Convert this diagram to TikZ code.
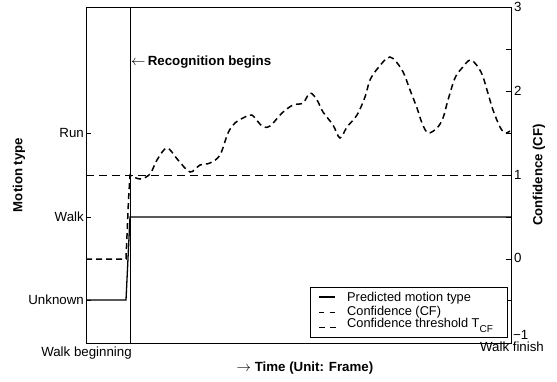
\documentclass[tikz,border=0pt]{standalone}
\usepackage{fontspec}
\setmainfont{Liberation Sans}
\begin{document}
\begin{tikzpicture}[x=1pt,y=-1pt,
  font=\fontsize{13.3}{15}\selectfont,
  txt/.style={inner sep=0pt},
  boldtxt/.style={inner sep=0pt,font=\fontsize{13.2}{15}\selectfont\bfseries},
  legtxt/.style={inner sep=0pt,anchor=base west,font=\fontsize{12.8}{13}\selectfont},
  axisbox/.style={line width=0.9pt},
  tickline/.style={line width=0.8pt},
  predline/.style={line width=1.3pt},
  cfline/.style={line width=1.5pt,dash pattern=on 6pt off 4pt},
  thrline/.style={line width=0.7pt,dash pattern=on 8pt off 5pt}]
\useasboundingbox (0,0) rectangle (557,381);
\fill[white] (0,0) rectangle (557,381);

% threshold
\draw[thrline] (86,175) -- (511,175);
% predicted motion type
\draw[predline] (86,300) -- (126,300) -- (130,217) -- (511,217);
% confidence
\draw[cfline] (86,259) -- (126,259) -- (128.5,200) -- plot[smooth,tension=0.55] coordinates {
 (130,175) (140,179) (150,174) (157,160) (167,148) (178,160) (190,172) (200,165)
 (210,163) (220,155) (228,133) (235,123) (245,117) (252,115) (262,126) (270,126)
 (282,113) (293,105) (303,103) (310,93) (317,100) (323,112) (333,125) (340,138)
 (347,127) (357,115) (365,97) (370,80) (378,68) (390,57) (402,70) (410,90)
 (417,108) (422,123) (428,133) (437,128) (443,118) (448,100) (455,78) (462,68)
 (471,60) (481,72) (487,90) (493,110) (500,127) (505,133) (510,131)};

% recognition line
\draw[line width=0.6pt] (130,7) -- (130,343);
% axes box
\draw[axisbox] (86,7) rectangle (511,343);
\foreach \yy in {133,217,300} \draw[tickline] (86,\yy) -- (91,\yy);
\foreach \yy in {49,91,133,175,217,259,300} \draw[tickline] (511,\yy) -- (506,\yy);

% left tick labels
\node[txt,anchor=east] (run) at (84,133) {Run};
\node[txt,anchor=east] (walk) at (84,217) {Walk};
\node[txt,anchor=east] (unknown) at (84,300) {Unknown};
% right tick labels
\node[txt,anchor=west] (r3) at (514,7) {3};
\node[txt,anchor=west] (r2) at (514,91) {2};
\node[txt,anchor=west] (r1) at (514,175) {1};
\node[txt,anchor=west] (r0) at (514,258) {0};
\node[txt,anchor=west] (rm1) at (513,335) {−1};

% axis titles
\node[boldtxt,rotate=90] (ylab) at (19,175) {Motion type};
\node[boldtxt,rotate=90] (y2lab) at (539,175) {Confidence (CF)};
\node[txt] (wb) at (86.5,353) {Walk beginning};
\node[txt] (wf) at (512,347) {Walk finish};
\node[txt] (xlab) at (305,368) {$\rightarrow$ \textbf{Time (Unit: Frame)}};
\node[txt,anchor=west] (rec) at (131,62) {$\leftarrow$\,\textbf{Recognition begins}};

% legend
\draw[line width=0.8pt,fill=white] (310,287) rectangle (507,337);
\coordinate (l1a) at (319,297); \coordinate (l1b) at (335,297);
\coordinate (l2a) at (319,312.5); \coordinate (l2b) at (335,312.5);
\coordinate (l3a) at (319,327.5); \coordinate (l3b) at (336,327.5);
\draw[predline] (l1a) -- (l1b);
\draw[line width=1.5pt,dash pattern=on 5pt off 6pt] (l2a) -- (l2b);
\draw[line width=0.7pt,dash pattern=on 6pt off 5pt] (l3a) -- (l3b);
\node[legtxt] (leg1) at (347,301.5) {Predicted motion type};
\node[legtxt] (leg2) at (347,315) {Confidence (CF)};
\node[legtxt] (leg3) at (347,327.8) {Confidence threshold T\raisebox{-4.5pt}{\fontsize{10}{10}\selectfont CF}};
\end{tikzpicture}
\end{document}
